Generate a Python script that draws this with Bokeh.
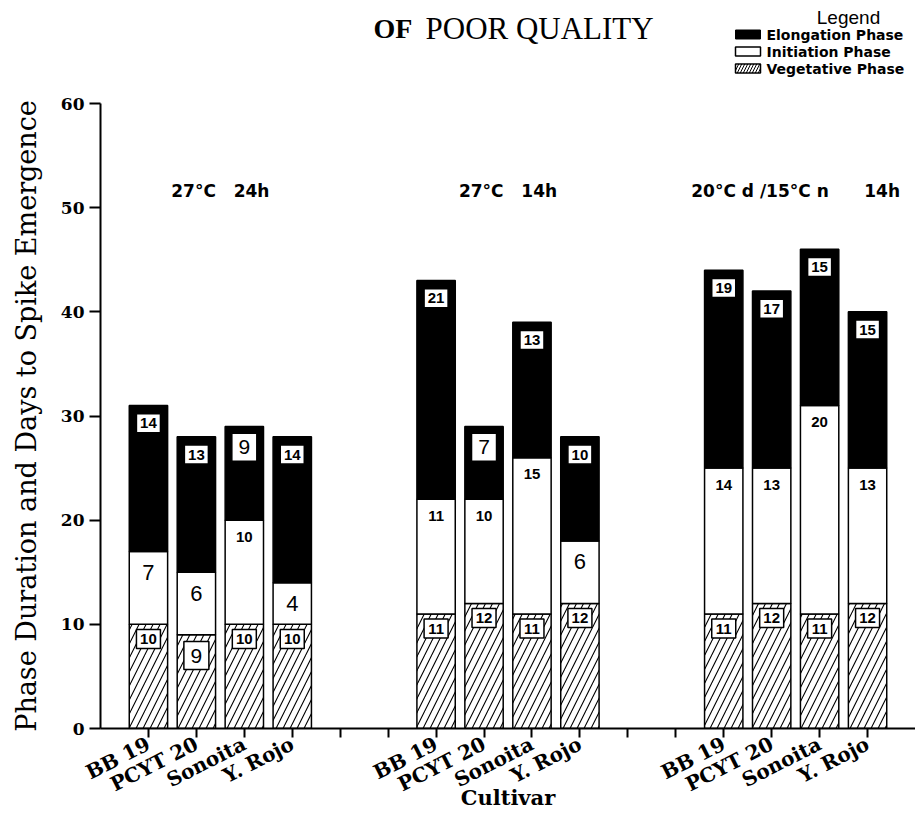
from bokeh.plotting import figure
from bokeh.models import Range1d, FixedTicker, ColumnDataSource
from bokeh.layouts import column
from bokeh.core.properties import value
from bokeh.embed import file_html
from bokeh.resources import INLINE

# ---------------- data ----------------
NB = "\u00a0"
cultivars = ["BB 19", "PCYT 20", "Sonoita", "Y. Rojo"]
conditions = ["27\u00b0C" + NB * 3 + "24h",
              "27\u00b0C" + NB * 3 + "14h",
              "20\u00b0C d /15\u00b0C n" + NB * 6 + "14h"]
vegetative = [10, 9, 10, 10, 11, 12, 11, 12, 11, 12, 11, 12]
initiation = [7, 6, 10, 4, 11, 10, 15, 6, 14, 13, 20, 13]
elongation = [14, 13, 9, 14, 21, 7, 13, 10, 19, 17, 15, 15]
y_ticks = [0, 10, 20, 30, 40, 50, 60]
legend_labels = ["Elongation Phase", "Initiation Phase", "Vegetative Phase"]

# ---------------- layout helpers ----------------
n_cult = len(cultivars)
group_step = n_cult + 2
n_slots = group_step * len(conditions) - 2
slots = [1 + group_step * g + i for g in range(len(conditions)) for i in range(n_cult)]
init_top = [v + n for v, n in zip(vegetative, initiation)]
elong_top = [t + e for t, e in zip(init_top, elongation)]

SANS = value("Liberation Sans")
SERIF_NAME = "DejaVu Serif"
W = 915
LEFT = 100
X_END = n_slots + 1

# ---------------- top strip: title & legend (page-pixel coordinates) ----------------
top = figure(width=W, height=95, x_range=Range1d(LEFT, W), y_range=Range1d(95, 0),
             output_backend="svg", toolbar_location=None,
             min_border_left=LEFT, min_border_right=0, min_border_top=0, min_border_bottom=0)
top.axis.visible = False
top.grid.visible = False
top.outline_line_color = None

top.text(x=[373], y=[28], text=["OF"], text_font=value("Liberation Serif"),
         text_font_style="bold", text_font_size="28px", text_baseline="middle", text_align="left")
top.text(x=[425], y=[28], text=["POOR QUALITY"], text_font=value("Liberation Serif"),
         text_font_size="31px", text_baseline="middle", text_align="left")
top.text(x=[848], y=[17], text=["Legend"], text_font=SANS, text_font_size="19px",
         text_baseline="middle", text_align="center")
leg_y = [34, 51, 68]
top.rect(x=[747.5], y=[leg_y[0]], width=25, height=9, fill_color="black", line_color="black")
top.rect(x=[747.5], y=[leg_y[1]], width=25, height=9, fill_color="white", line_color="black", line_width=1.5)
top.rect(x=[747.5], y=[leg_y[2]], width=25, height=9, fill_color="white", line_color="black",
         line_width=1.5, hatch_pattern="/", hatch_color="black", hatch_scale=6, hatch_weight=1)
top.text(x=[766] * 3, y=leg_y, text=legend_labels, text_font=value("DejaVu Sans"),
         text_font_style="bold", text_font_size="14px", text_baseline="middle", text_align="left")

# ---------------- main chart ----------------
p = figure(width=W, height=733, x_range=Range1d(0, X_END), y_range=Range1d(0, 60),
           output_backend="svg", toolbar_location=None,
           min_border_left=LEFT, min_border_right=0, min_border_top=8, min_border_bottom=100)
p.grid.visible = False
p.outline_line_color = None

bw = 0.8
p.vbar(x=slots, bottom=0, top=vegetative, width=bw, fill_color="white", line_color="black",
       line_width=1.5, hatch_pattern="/", hatch_color="black", hatch_scale=14, hatch_weight=1.1)
p.vbar(x=slots, bottom=vegetative, top=init_top, width=bw, fill_color="white",
       line_color="black", line_width=1.5)
p.vbar(x=slots, bottom=init_top, top=elong_top, width=bw, fill_color="black",
       line_color="black", line_width=1.5)

def boxed(values, tops, small_drop, big_drop):
    src = dict(x=[], y=[], t=[], w=[], h=[], fs=[], style=[])
    for x, v, tp in zip(slots, values, tops):
        single = v < 10
        src["x"].append(x)
        src["y"].append(tp - (big_drop if single else small_drop))
        src["t"].append(str(v))
        src["w"].append(25 if single else 24)
        src["h"].append(28 if single else 19)
        src["fs"].append("21px" if single else "15px")
        src["style"].append("normal" if single else "bold")
    return ColumnDataSource(src)

for vals, tops, sd, bd in [(vegetative, vegetative, 1.4, 2.0), (elongation, elong_top, 1.7, 2.0)]:
    s = boxed(vals, tops, sd, bd)
    p.rect(x="x", y="y", width="w", height="h", width_units="screen", height_units="screen",
           fill_color="white", line_color="black", line_width=1.5, source=s)
    p.text(x="x", y="y", text="t", text_font=SANS, text_font_size="fs", text_font_style="style",
           text_align="center", text_baseline="middle", source=s)

init_src = ColumnDataSource(dict(
    x=slots,
    y=[tp - (2.0 if v < 10 else 1.6) for v, tp in zip(initiation, init_top)],
    t=[str(v) for v in initiation],
    fs=["22px" if v < 10 else "15px" for v in initiation],
    style=["normal" if v < 10 else "bold" for v in initiation],
))
p.text(x="x", y="y", text="t", text_font=SANS, text_font_size="fs", text_font_style="style",
       text_align="center", text_baseline="middle", source=init_src)

group_centers = [1 + group_step * g + (n_cult - 1) / 2 for g in range(len(conditions))]
p.text(x=group_centers, y=[51.6] * 3, text=conditions, text_font=value("DejaVu Sans"),
       text_font_style="bold", text_font_size="17px", text_align="center", text_baseline="middle")

# axes
ticks = list(range(1, n_slots + 1))
overrides = {t: "" for t in ticks}
for k, s in enumerate(slots):
    overrides[s] = cultivars[k % n_cult]

p.xaxis.ticker = FixedTicker(ticks=ticks)
p.xaxis.major_label_overrides = overrides
p.xaxis.major_label_orientation = 0.47
p.xaxis.major_label_standoff = 5
p.xaxis.minor_tick_line_color = None
p.xaxis.major_tick_out = 9
p.xaxis.major_tick_in = 0
p.xaxis.axis_line_width = 2
p.xaxis.major_tick_line_width = 2
p.xaxis.major_label_text_font = SERIF_NAME
p.xaxis.major_label_text_font_style = "bold"
p.xaxis.major_label_text_font_size = "20px"
p.xaxis.major_label_text_color = "black"
p.xaxis.axis_label = "Cultivar"
p.xaxis.axis_label_text_font = SERIF_NAME
p.xaxis.axis_label_text_font_style = "bold"
p.xaxis.axis_label_text_font_size = "21px"
p.xaxis.axis_label_text_color = "black"
p.xaxis.axis_label_standoff = -25

p.yaxis.ticker = FixedTicker(ticks=y_ticks)
p.yaxis.minor_tick_line_color = None
p.yaxis.major_tick_out = 11
p.yaxis.major_tick_in = 0
p.yaxis.axis_line_width = 2
p.yaxis.major_tick_line_width = 2
p.yaxis.major_label_text_font = SERIF_NAME
p.yaxis.major_label_text_font_style = "bold"
p.yaxis.major_label_text_font_size = "17px"
p.yaxis.major_label_text_color = "black"
p.yaxis.axis_label = "Phase Duration and Days to Spike Emergence"
p.yaxis.axis_label_text_font = SERIF_NAME
p.yaxis.axis_label_text_font_style = "normal"
p.yaxis.axis_label_text_font_size = "27px"
p.yaxis.axis_label_text_color = "black"
p.yaxis.axis_label_standoff = 16

layout = column(top, p)
open("out.html", "w").write(file_html(layout, INLINE))
